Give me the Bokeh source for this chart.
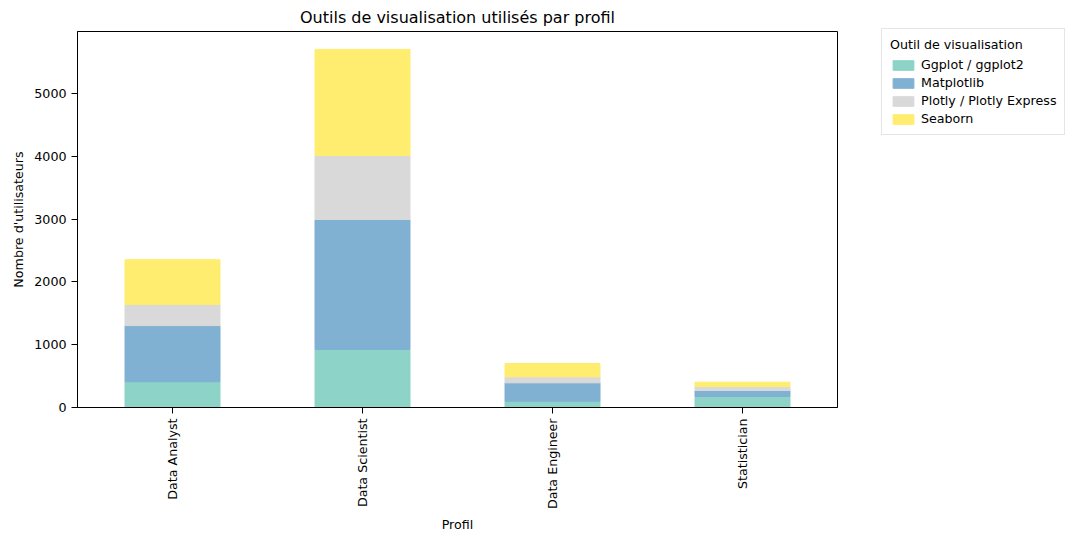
import math
from bokeh.plotting import figure
from bokeh.models import ColumnDataSource, Legend
from bokeh.embed import file_html
from bokeh.resources import INLINE

profils = ["Data Analyst", "Data Scientist", "Data Engineer", "Statistician"]
outils = ["Ggplot / ggplot2", "Matplotlib", "Plotly / Plotly Express", "Seaborn"]
ggplot = [410, 925, 100, 175]
matplotlib_ = [895, 2070, 293, 96]
plotly = [335, 1020, 96, 63]
seaborn = [715, 1690, 211, 69]
colors = ["#8dd3c7", "#80b1d3", "#d9d9d9", "#ffed6f"]

src = ColumnDataSource(dict(profil=profils, g=ggplot, m=matplotlib_, p=plotly, s=seaborn))

p = figure(x_range=profils, y_range=(0, 5990), frame_width=760, frame_height=376,
           output_backend="svg", toolbar_location=None,
           title="Outils de visualisation utilisés par profil",
           min_border_left=77, min_border_top=17, min_border_right=10)
r = p.vbar_stack(["g", "m", "p", "s"], x="profil", width=0.5, color=colors, source=src)
p.title.align = "center"
p.title.text_font_style = "normal"
p.title.text_font_size = "12pt"
p.title.text_font = "DejaVu Sans"
p.title.text_color = "black"
p.xaxis.axis_label = "Profil"
p.yaxis.axis_label = "Nombre d'utilisateurs"
for ax in (p.xaxis, p.yaxis):
    ax.axis_label_text_font_style = "normal"
    ax.axis_label_text_font = "DejaVu Sans"
    ax.axis_label_text_font_size = "9.5pt"
    ax.axis_label_text_color = "black"
    ax.major_label_text_font = "DejaVu Sans"
    ax.major_label_text_font_size = "9.5pt"
    ax.major_label_text_color = "black"
    ax.minor_tick_line_color = None
    ax.axis_line_color = "black"
    ax.major_tick_line_color = "black"
p.xaxis.major_label_orientation = math.pi / 2
p.yaxis.ticker = [0, 1000, 2000, 3000, 4000, 5000]
p.xgrid.grid_line_color = None
p.ygrid.grid_line_color = None
p.outline_line_color = "black"
p.x_range.range_padding = 0.0
p.xaxis.major_tick_in = 0
p.yaxis.major_tick_in = 0

legend = Legend(items=[(o, [rr]) for o, rr in zip(outils, r)],
                title="Outil de visualisation", margin=0, label_text_font="DejaVu Sans",
                label_text_font_size="9.5pt", title_text_font="DejaVu Sans",
                title_text_font_size="9.5pt", title_text_font_style="normal",
                title_text_color="black", label_text_color="black",
                glyph_height=12, glyph_width=26,
                label_height=12, spacing=3, padding=8, border_line_color="#cccccc")
legend.location = (44, 272)
p.add_layout(legend, "right")

open("out.html", "w").write(file_html(p, INLINE))
